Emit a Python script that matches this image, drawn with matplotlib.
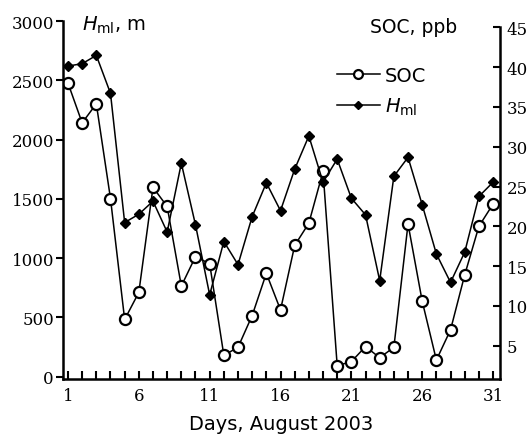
import matplotlib
matplotlib.use("Agg")
import matplotlib.pyplot as plt

plt.rcParams['mathtext.fontset'] = 'dejavusans'

# data
days = list(range(1, 32))
h_ml = [2620, 2640, 2710, 2390, 1300, 1370, 1480, 1220, 1800, 1280,
        690, 1140, 945, 1350, 1635, 1400, 1750, 2030, 1640, 1835,
        1505, 1365, 810, 1690, 1850, 1450, 1035, 795, 1050, 1520, 1640]
soc = [38.0, 33.0, 35.4, 23.5, 8.3, 11.7, 24.9, 22.5, 12.5, 16.2,
       15.3, 3.8, 4.8, 8.8, 14.1, 9.5, 17.6, 20.4, 26.9, 2.5,
       3.0, 4.9, 3.5, 4.8, 20.3, 10.6, 3.2, 7.0, 13.9, 20.0, 22.8]
x_labels = [1, 6, 11, 16, 21, 26, 31]
h_ticks = [0, 500, 1000, 1500, 2000, 2500, 3000]
soc_ticks = [5, 10, 15, 20, 25, 30, 35, 40, 45]

fig = plt.figure(figsize=(5.31, 4.35), dpi=100)
ax = fig.add_axes([0.1186, 0.1264, 0.823, 0.823])
ax2 = ax.twinx()
ax.set_zorder(ax2.get_zorder() + 1)
ax.patch.set_visible(False)

hl_label = r'$\mathit{H}_{\mathrm{ml}}$'
l2, = ax2.plot(days, soc, '-o', color='black', lw=1.1, ms=8,
               mfc='white', mec='black', mew=1.6, label='SOC')
l1, = ax.plot(days, h_ml, '-D', color='black', lw=1.1, ms=5.5,
              label=hl_label)

ax.set_xlim(0.647, 31.49)
ax.set_ylim(-20, 3000)
ax2.set_ylim(0.82, 45.8)

serif = 'DejaVu Serif'
ax.set_xticks(x_labels)
ax.set_xticklabels([str(v) for v in x_labels], family=serif, fontsize=12)
ax.set_xticks(days, minor=True)
ax.set_yticks(h_ticks)
ax.set_yticklabels([str(v) for v in h_ticks], family=serif, fontsize=12)
ax2.set_yticks(soc_ticks)
ax2.set_yticklabels([str(v) for v in soc_ticks], family=serif, fontsize=12)

ax.tick_params(axis='x', which='both', direction='in', length=6, width=1.5,
               pad=6, top=False)
ax.tick_params(axis='y', direction='out', length=5, width=1.5, pad=1.5)
ax2.tick_params(axis='y', direction='in', length=5, width=1.5, pad=5)

for a in (ax, ax2):
    a.spines['top'].set_visible(False)
    for s in a.spines.values():
        s.set_linewidth(1.8)
ax2.spines['right'].set_bounds(0.82, 45)
ax2.spines['left'].set_visible(False)
ax2.spines['bottom'].set_visible(False)
ax.spines['right'].set_visible(False)

ax.set_xlabel('Days, August 2003', family='DejaVu Sans', fontsize=14,
              labelpad=7)
ax.text(0.043, 0.99, hl_label + ', m', transform=ax.transAxes,
        fontsize=14, va='center', ha='left', family='DejaVu Sans')
ax.text(0.902, 0.986, 'SOC, ppb', transform=ax.transAxes,
        fontsize=13.5, va='center', ha='right', family='DejaVu Sans')

ax.legend([l2, l1], ['SOC', hl_label], loc='upper left',
          bbox_to_anchor=(0.627, 0.874), frameon=False, fontsize=14,
          handlelength=2.2, handletextpad=0.26, labelspacing=0.54,
          borderpad=0, borderaxespad=0, markerscale=0.8)

fig.savefig('out.png', dpi=100)
